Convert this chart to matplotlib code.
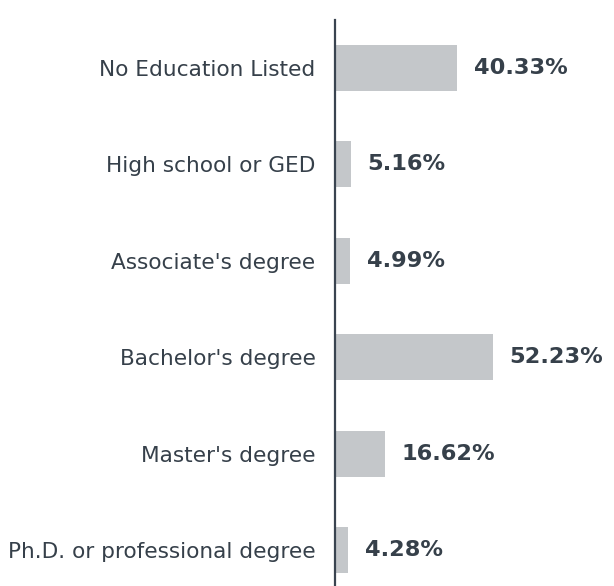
import matplotlib.pyplot as plt

# ── data ──
categories = ['No Education Listed', 'High school or GED', "Associate's degree",
              "Bachelor's degree", "Master's degree", 'Ph.D. or professional degree']
values = [40.33, 5.16, 4.99, 52.23, 16.62, 4.28]
value_labels = ['40.33%', '5.16%', '4.99%', '52.23%', '16.62%', '4.28%']

bar_color = '#c4c7ca'
text_color = '#36404a'
axis_color = '#3a4450'

plt.rcParams['font.family'] = ['DejaVu Sans']

fig = plt.figure(figsize=(6.14, 5.86), dpi=100)
ax = fig.add_axes([335 / 614, 0.0, 1 - 335 / 614, (586 - 20) / 586])

pos = list(range(len(categories)))
ax.barh(pos, values, height=0.477, color=bar_color, zorder=2)

for p, v, lab in zip(pos, values, value_labels):
    ax.annotate(lab, xy=(v, p), xytext=(12, 0), textcoords='offset points',
                va='center', ha='left', fontsize=16.2, fontweight='bold',
                color=text_color)

ax.set_xlim(0, 92.2)
ax.set_ylim(5.373, -0.498)
ax.set_yticks(pos)
ax.set_yticklabels(categories, fontsize=15.6, color=text_color)
ax.tick_params(axis='y', length=0, pad=14)
ax.set_xticks([])

for s in ['top', 'right', 'bottom']:
    ax.spines[s].set_visible(False)
ax.spines['left'].set_color(axis_color)
ax.spines['left'].set_linewidth(1.6)

plt.savefig('out.png', dpi=100, facecolor='white')
plt.close()
